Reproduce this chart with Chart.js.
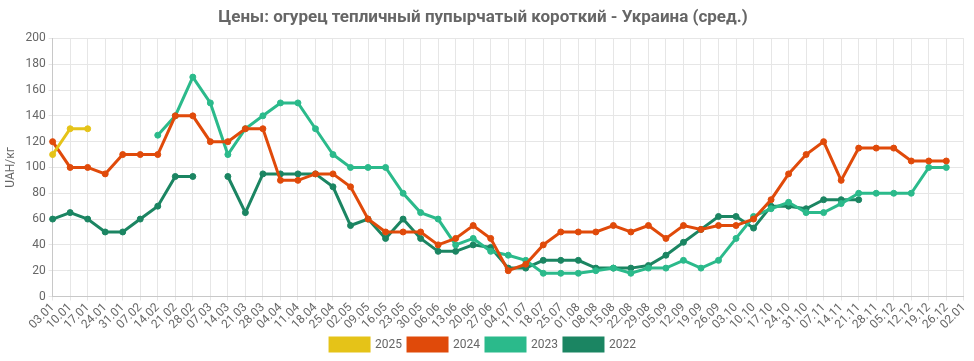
<!DOCTYPE html>
<html lang="ru">
<head>
  <meta charset="UTF-8" />
  <title>Цены: огурец тепличный</title>
  <script src="https://cdn.jsdelivr.net/npm/chart.js"></script>
  <style>
    html, body { margin: 0; padding: 0; background: #fff; }
    #wrap { width: 974px; height: 361px; }
  </style>
</head>
<body>
  <div id="wrap"><canvas id="lineChart"></canvas></div>
  <script>
    const labels = ['03.01','10.01','17.01','24.01','31.01','07.02','14.02','21.02','28.02','07.03','14.03','21.03','28.03',
      '04.04','11.04','18.04','25.04','02.05','09.05','16.05','23.05','30.05','06.06','13.06','20.06','27.06',
      '04.07','11.07','18.07','25.07','01.08','08.08','15.08','22.08','29.08','05.09','12.09','19.09','26.09',
      '03.10','10.10','17.10','24.10','31.10','07.11','14.11','21.11','28.11','05.12','12.12','19.12','26.12','02.01'];

    const y2025 = [110, 130, 130];

    const y2024 = [120, 100, 100, 95, 110, 110, 110, 140, 140, 120, 120, 130, 130,
      90, 90, 95, 95, 85, 60, 50, 50, 50, 40, 45, 55, 45,
      20, 25, 40, 50, 50, 50, 55, 50, 55, 45, 55, 52, 55,
      55, 60, 75, 95, 110, 120, 90, 115, 115, 115, 105, 105, 105, null];

    const y2023 = [null, null, null, null, null, null, 125, 140, 170, 150, 110, 130, 140,
      150, 150, 130, 110, 100, 100, 100, 80, 65, 60, 40, 45, 35,
      32, 28, 18, 18, 18, 20, 22, 18, 22, 22, 28, 22, 28,
      45, 62, 68, 73, 65, 65, 72, 80, 80, 80, 80, 100, 100, null];

    const y2022 = [60, 65, 60, 50, 50, 60, 70, 93, 93, null, 93, 65, 95,
      95, 95, 95, 85, 55, 60, 45, 60, 45, 35, 35, 40, 38,
      22, 22, 28, 28, 28, 22, 22, 22, 24, 32, 42, 52, 62,
      62, 53, 70, 70, 68, 75, 75, 75];

    const grey = '#666';

    function series(label, data, color) {
      return {
        label: label,
        data: data,
        borderColor: color,
        backgroundColor: color,
        pointBackgroundColor: color,
        pointBorderColor: color,
        borderWidth: 3,
        pointRadius: 3,
        pointBorderWidth: 1,
        pointHoverRadius: 4,
        tension: 0,
        spanGaps: false
      };
    }

    new Chart(document.getElementById('lineChart'), {
      type: 'line',
      data: {
        labels: labels,
        datasets: [
          series('2025', y2025, '#e5c318'),
          series('2024', y2024, '#e04a0a'),
          series('2023', y2023, '#2bba8b'),
          series('2022', y2022, '#1b8562')
        ]
      },
      options: {
        responsive: true,
        maintainAspectRatio: false,
        animation: false,
        layout: { padding: { left: 0, right: 8, top: 0, bottom: 0 } },
        plugins: {
          title: {
            display: true,
            text: 'Цены: огурец тепличный пупырчатый короткий - Украина (сред.)',
            color: grey,
            font: { family: 'Roboto', size: 17, weight: 'bold' },
            padding: { top: 8, bottom: 10 }
          },
          legend: {
            position: 'bottom',
            labels: {
              boxWidth: 39,
              boxHeight: 13,
              color: grey,
              font: { family: 'Roboto', size: 12 },
              padding: 6
            }
          }
        },
        scales: {
          x: {
            grid: { color: '#e6e6e6', drawTicks: true, tickLength: 4 },
            border: { color: '#c8c8c8' },
            ticks: {
              autoSkip: false,
              maxRotation: 45,
              minRotation: 45,
              color: grey,
              font: { family: 'Roboto', size: 12 },
              padding: 0
            }
          },
          y: {
            min: 0,
            max: 200,
            grid: { color: '#e6e6e6', tickLength: 4 },
            border: { color: '#c8c8c8' },
            ticks: {
              stepSize: 20,
              color: grey,
              font: { family: 'Roboto', size: 12 }
            },
            title: {
              display: true,
              text: 'UAH/кг',
              color: grey,
              font: { family: 'Roboto', size: 12 }
            }
          }
        }
      }
    });
  </script>
</body>
</html>
